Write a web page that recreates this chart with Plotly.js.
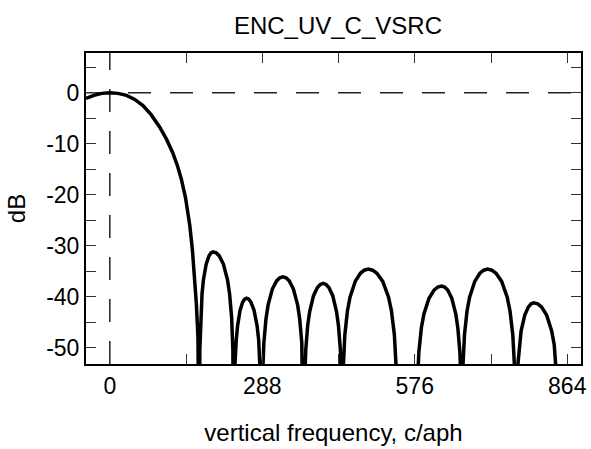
<!DOCTYPE html>
<html>
<head>
<meta charset="utf-8">
<script src="https://cdn.plot.ly/plotly-3.0.1.min.js"></script>
<style>html,body{margin:0;padding:0;background:#fff;}#chart{width:591px;height:449px;}</style>
</head>
<body>
<div id="chart"></div>
<script>
// Frequency (c/aph) and response (dB)
var freq = [
  -45, -30, -15, 0, 15, 31.6, 47, 62.6, 78, 94, 107, 119, 128, 135, 143, 151, 156, 160, 163.5, 166.5, 169,
  170.0, 171.6, 174.2, 176.8, 182.0, 187.2, 191.1, 195, 200.9, 206.7, 214.5, 222.3, 226.2, 230.1, 232.4, 234,
  235.0, 236.4, 238.8, 241.2, 246.0, 250.8, 254.4, 258, 262.4, 266.7, 272.5, 278.3, 281.2, 284.1, 285.8, 287,
  288.6, 291.0, 295.0, 299.0, 307.0, 315.0, 321.0, 327, 332.9, 338.9, 346.8, 354.7, 358.6, 362.6, 364.9, 366.5,
  368.0, 370.2, 373.8, 377.5, 384.8, 392.1, 397.5, 403, 408.4, 413.8, 421.0, 428.2, 431.8, 435.4, 437.6, 439,
  441.0, 443.9, 448.8, 453.7, 463.5, 473.3, 480.7, 488, 496.3, 504.5, 515.5, 526.5, 532.0, 537.5, 540.8, 543,
  561, 579,
  580.9, 583.8, 588.5, 593.3, 602.9, 612.4, 619.5, 626.7, 632.4, 638.2, 645.9, 653.5, 657.3, 661.2, 663.5, 665,
  666.9, 669.9, 674.7, 679.6, 689.3, 699.0, 706.3, 713.6, 721.5, 729.5, 740.1, 750.6, 755.9, 761.2, 764.4, 766.5,
  767.9, 770.0, 773.4, 776.9, 783.8, 790.7, 795.8, 801, 808.2, 815.4, 825.0, 834.6, 839.4, 844.2, 847.1, 849,
  870, 890
];
var dB = [
  -1.1, -0.5, -0.12, 0, -0.12, -0.5, -1.3, -2.5, -4.3, -6.7, -9.1, -11.8, -14.4, -16.9, -20.6, -26.0, -30.8, -35.9, -41.5, -48.0, -80,
  -50.4, -44.1, -39.4, -36.7, -33.6, -32.0, -31.4, -31.2, -31.4, -32.0, -33.6, -36.7, -39.4, -44.1, -50.4, -80,
  -59.5, -53.2, -48.5, -45.8, -42.7, -41.1, -40.5, -40.3, -40.5, -41.1, -42.7, -45.8, -48.5, -53.2, -59.5, -80,
  -55.3, -49.0, -44.3, -41.6, -38.5, -36.9, -36.3, -36.1, -36.3, -36.9, -38.5, -41.6, -44.3, -49.0, -55.3, -80,
  -56.6, -50.3, -45.6, -42.9, -39.8, -38.2, -37.6, -37.4, -37.6, -38.2, -39.8, -42.9, -45.6, -50.3, -56.6, -80,
  -53.8, -47.5, -42.8, -40.1, -37.0, -35.4, -34.8, -34.6, -34.8, -35.4, -37.0, -40.1, -42.8, -47.5, -53.8, -80,
  -62, -80,
  -57.1, -50.8, -46.1, -43.4, -40.3, -38.7, -38.1, -37.9, -38.1, -38.7, -40.3, -43.4, -46.1, -50.8, -57.1, -80,
  -53.8, -47.5, -42.8, -40.1, -37.0, -35.4, -34.8, -34.6, -34.8, -35.4, -37.0, -40.1, -42.8, -47.5, -53.8, -80,
  -60.4, -54.1, -49.4, -46.7, -43.6, -42.0, -41.4, -41.2, -41.4, -42.0, -43.6, -46.7, -49.4, -54.1, -60.4, -80,
  -62, -70
];
var xTickVals = [0, 144, 288, 432, 576, 720, 864];
var xTickText = ['0', '', '288', '', '576', '', '864'];
var yTickVals = [-50, -45, -40, -35, -30, -25, -20, -15, -10, -5, 0, 5];
var yTickText = ['-50', '', '-40', '', '-30', '', '-20', '', '-10', '', '0', ''];

var FONT = 'Liberation Sans, Arial, Helvetica, sans-serif';

var trace = {
  x: freq, y: dB, type: 'scatter', mode: 'lines',
  line: {color: '#000', width: 3.5}, hoverinfo: 'skip', showlegend: false
};

var axisCommon = {
  showline: true, linecolor: '#000', linewidth: 2, mirror: 'ticks',
  ticks: 'inside', ticklen: 10, tickwidth: 1, tickcolor: '#333',
  showgrid: false, zeroline: false,
  tickfont: {family: FONT, size: 23, color: '#000'}
};

var layout = {
  width: 591, height: 449,
  margin: {l: 86, r: 10, t: 53, b: 85, pad: 0},
  paper_bgcolor: '#fff', plot_bgcolor: '#fff',
  font: {family: FONT, color: '#000'},
  title: {text: 'ENC_UV_C_VSRC', font: {family: FONT, size: 24, color: '#000'},
          xref: 'paper', x: 0.509, xanchor: 'center', yref: 'container', y: 1 - 26/449, yanchor: 'middle'},
  xaxis: Object.assign({}, axisCommon, {
    range: [-45, 890], tickmode: 'array', tickvals: xTickVals, ticktext: xTickText,
    title: {text: 'vertical frequency, c/aph', font: {family: FONT, size: 24, color: '#000'}, standoff: 27}
  }),
  yaxis: Object.assign({}, axisCommon, {
    range: [-53.2, 7.8], tickmode: 'array', tickvals: yTickVals, ticktext: yTickText,
    title: {text: 'dB', font: {family: FONT, size: 24, color: '#000'}, standoff: 14}
  }),
  shapes: [
    {type: 'line', xref: 'x', yref: 'paper', x0: 0, x1: 0, y0: 0, y1: 1,
     line: {color: '#222', width: 1.5, dash: '23px,19px'}, layer: 'below'},
    {type: 'line', xref: 'paper', yref: 'y', x0: 0, x1: 1, y0: 0, y1: 0,
     line: {color: '#222', width: 1.5, dash: '23px,19px'}, layer: 'below'}
  ]
};

Plotly.newPlot('chart', [trace], layout, {displayModeBar: false, staticPlot: true});
</script>
</body>
</html>
